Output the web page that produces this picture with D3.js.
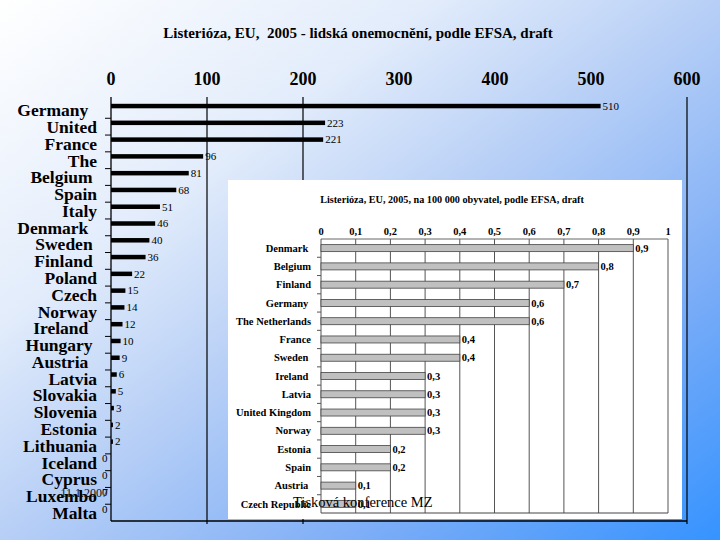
<!DOCTYPE html>
<html>
<head>
<meta charset="utf-8">
<script src="https://cdn.jsdelivr.net/npm/d3@7"></script>
<style>
  html, body { margin: 0; padding: 0; }
  svg { display: block; }
  text { white-space: pre; }
</style>
</head>
<body>
<svg id="chart" width="720" height="540" font-family="'Liberation Serif', 'Times New Roman', serif"></svg>
<script>
// ===== Data: main chart (cases) =====
const mainCountries = ["Germany  ", "United", "France", "The", "Belgium ", "Spain", "Italy",
  "Denmark  ", "Sweden ", "Finland ", "Poland", "Czech", "Norway", "Ireland  ", "Hungary ",
  "Austria  ", "Latvia", "Slovakia", "Slovenia", "Estonia", "Lithuania", "Iceland", "Cyprus",
  "Luxembo", "Malta"];
const mainCases = [510, 223, 221, 96, 81, 68, 51, 46, 40, 36, 22, 15, 14, 12, 10, 9, 6, 5, 3, 2, 2, 0, 0, 0, 0];
const mainTicks = [0, 100, 200, 300, 400, 500, 600];
const mainGrid = [100, 200, 600];

// ===== Data: inset chart (per 100 000) =====
const rateCountries = ["Denmark ", "Belgium", "Finland", "Germany ", "The Netherlands", "France",
  "Sweden ", "Ireland ", "Latvia", "United Kingdom", "Norway", "Estonia", "Spain", "Austria ",
  "Czech Republic"];
const rateValues = [0.9, 0.8, 0.7, 0.6, 0.6, 0.4, 0.4, 0.3, 0.3, 0.3, 0.3, 0.2, 0.2, 0.1, 0.1];
const rateTicks = [0, 0.1, 0.2, 0.3, 0.4, 0.5, 0.6, 0.7, 0.8, 0.9, 1];

const comma = v => String(v).replace(".", ",");

const svg = d3.select("#chart");

// ===== Background gradient =====
const grad = svg.append("defs").append("linearGradient")
  .attr("id", "bg").attr("x1", 0).attr("y1", 0).attr("x2", 1).attr("y2", 1);
[[0, "#ffffff"], [0.3, "#e2ecfb"], [0.5, "#b7cff6"], [0.75, "#7cadf7"], [1, "#3593ff"]]
  .forEach(([o, c]) => grad.append("stop").attr("offset", o).attr("stop-color", c));
svg.append("rect").attr("width", 720).attr("height", 540).attr("fill", "url(#bg)");

// ===== Main chart =====
const x = d3.scaleLinear().domain([0, 600]).range([111, 687]);
const y = d3.scaleBand().domain(mainCountries).range([101.5, 521]);
const top0 = 97, bottom0 = 521;

svg.append("text")
  .attr("x", 358).attr("y", 38)
  .attr("text-anchor", "middle")
  .style("font-size", "15px").style("font-weight", "bold")
  .text("Listerióza, EU,  2005 - lidská onemocnění, podle EFSA, draft");

svg.append("g").selectAll("text").data(mainTicks).join("text")
  .attr("x", d => x(d)).attr("y", 85)
  .attr("text-anchor", "middle")
  .style("font-size", "18px").style("font-weight", "bold")
  .text(d => d);

svg.append("g").selectAll("line").data(mainGrid).join("line")
  .attr("x1", d => x(d)).attr("x2", d => x(d))
  .attr("y1", top0).attr("y2", bottom0 + 3)
  .attr("stroke", "#000").attr("stroke-width", 1.2);

// axis + frame
svg.append("line").attr("x1", x(0)).attr("x2", x(0)).attr("y1", top0).attr("y2", bottom0)
  .attr("stroke", "#000").attr("stroke-width", 1.3);
svg.append("line").attr("x1", x(0)).attr("x2", x(600)).attr("y1", bottom0).attr("y2", bottom0)
  .attr("stroke", "#000").attr("stroke-width", 1.3);

// category ticks
svg.append("g").selectAll("line").data(mainCountries.slice(1)).join("line")
  .attr("x1", x(0) - 6).attr("x2", x(0))
  .attr("y1", d => y(d)).attr("y2", d => y(d))
  .attr("stroke", "#000").attr("stroke-width", 1);

svg.append("g").selectAll("rect").data(mainCountries).join("rect")
  .attr("x", x(0))
  .attr("y", d => y(d) + 2.3)
  .attr("width", (d, i) => x(mainCases[i]) - x(0))
  .attr("height", 4.5)
  .attr("fill", "#000");

svg.append("g").selectAll("text").data(mainCountries).join("text")
  .attr("x", (d, i) => mainCases[i] === 0 ? 102 : x(mainCases[i]) + 2)
  .attr("y", d => y(d) + 4.5)
  .attr("dy", "0.35em")
  .style("font-size", "11px")
  .text((d, i) => mainCases[i]);

svg.append("g").selectAll("text").data(mainCountries).join("text")
  .attr("x", 97)
  .attr("y", d => y(d) + y.bandwidth() / 2)
  .attr("dy", "0.36em")
  .attr("text-anchor", "end")
  .style("font-size", "17.5px").style("font-weight", "bold")
  .text(d => d);

// slide date placeholder overlapping the labels
svg.append("text")
  .attr("x", 108).attr("y", 497)
  .attr("text-anchor", "end")
  .style("font-size", "12px")
  .attr("fill", "#111")
  .text("11.1.2007");

// ===== Inset chart =====
const inset = svg.append("g");
inset.append("rect")
  .attr("x", 228).attr("y", 180).attr("width", 454).attr("height", 339)
  .attr("fill", "#ffffff");

const xi = d3.scaleLinear().domain([0, 1]).range([321, 668]);
const yi = d3.scaleBand().domain(rateCountries).range([239, 513]);

inset.append("text")
  .attr("x", 452).attr("y", 203)
  .attr("text-anchor", "middle")
  .style("font-size", "10.2px").style("font-weight", "bold")
  .text("Listerióza, EU, 2005, na 100 000 obyvatel, podle EFSA, draft");

inset.append("g").selectAll("text").data(rateTicks).join("text")
  .attr("x", d => xi(d)).attr("y", 234.5)
  .attr("text-anchor", "middle")
  .style("font-size", "10.5px").style("font-weight", "bold")
  .text(d => comma(d));

inset.append("g").selectAll("line").data(rateTicks.slice(1)).join("line")
  .attr("x1", d => xi(d)).attr("x2", d => xi(d))
  .attr("y1", 239).attr("y2", 513)
  .attr("stroke", "#555").attr("stroke-width", 1);

inset.append("line").attr("x1", xi(0)).attr("x2", xi(1)).attr("y1", 239).attr("y2", 239)
  .attr("stroke", "#666").attr("stroke-width", 1);
inset.append("line").attr("x1", xi(0)).attr("x2", xi(1)).attr("y1", 513).attr("y2", 513)
  .attr("stroke", "#444").attr("stroke-width", 1);
inset.append("line").attr("x1", xi(0)).attr("x2", xi(0)).attr("y1", 239).attr("y2", 513)
  .attr("stroke", "#555").attr("stroke-width", 1);

inset.append("g").selectAll("line").data(rateCountries.slice(1)).join("line")
  .attr("x1", xi(0) - 4).attr("x2", xi(0))
  .attr("y1", d => yi(d)).attr("y2", d => yi(d))
  .attr("stroke", "#555").attr("stroke-width", 1);

inset.append("g").selectAll("rect").data(rateCountries).join("rect")
  .attr("x", xi(0))
  .attr("y", d => yi(d) + yi.bandwidth() / 2 - 3.5)
  .attr("width", (d, i) => xi(rateValues[i]) - xi(0))
  .attr("height", 7)
  .attr("fill", "#c0c0c0")
  .attr("stroke", "#444").attr("stroke-width", 0.8);

inset.append("g").selectAll("text").data(rateCountries).join("text")
  .attr("x", (d, i) => xi(rateValues[i]) + 2)
  .attr("y", d => yi(d) + yi.bandwidth() / 2)
  .attr("dy", "0.35em")
  .style("font-size", "10.5px").style("font-weight", "bold")
  .text((d, i) => comma(rateValues[i]));

inset.append("g").selectAll("text").data(rateCountries).join("text")
  .attr("x", 311)
  .attr("y", d => yi(d) + yi.bandwidth() / 2)
  .attr("dy", "0.35em")
  .attr("text-anchor", "end")
  .style("font-size", "10.5px").style("font-weight", "bold")
  .text(d => d);

// footer text of the slide
svg.append("text")
  .attr("x", 293).attr("y", 507)
  .style("font-size", "14.5px")
  .attr("fill", "#000")
  .text("Tisková konference MZ");
</script>
</body>
</html>
